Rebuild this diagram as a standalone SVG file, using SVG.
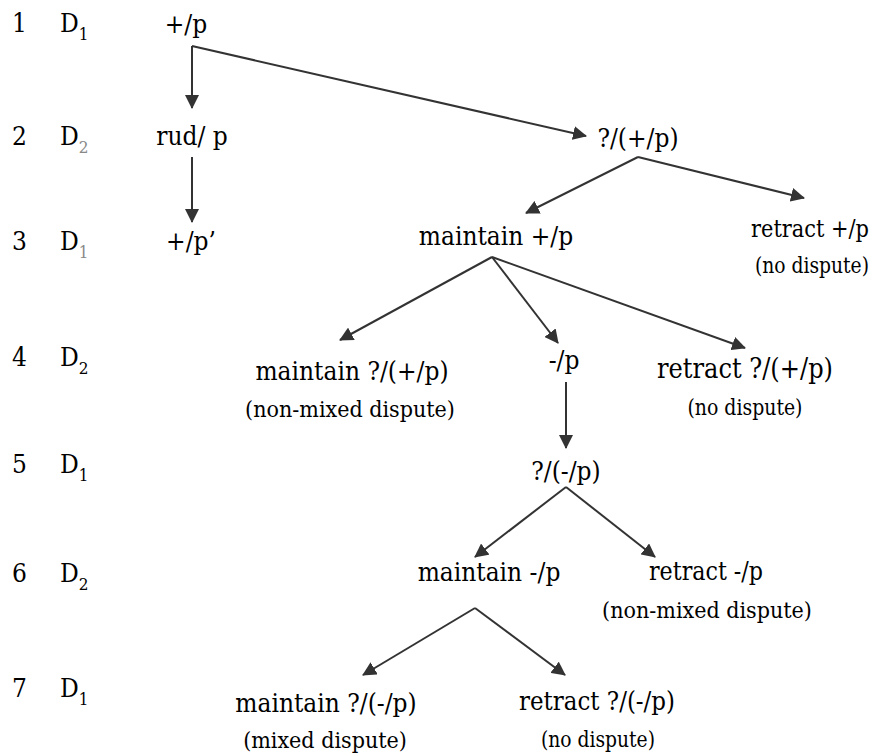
<svg xmlns="http://www.w3.org/2000/svg" width="881" height="755" viewBox="0 0 881 755">
<defs>
<style>
text{font-family:"DejaVu Serif Condensed","DejaVu Serif","Liberation Serif",serif;font-stretch:condensed;fill:#000}
.t{font-size:26px;text-anchor:middle}
.s{font-size:23px;text-anchor:middle}
.big{font-size:28px;text-anchor:middle}
.n{font-size:26px}
.sub{font-size:17px}
.g{fill:#888}
.e line{stroke:#333;stroke-width:2;fill:none;marker-end:url(#ah)}
</style>
<marker id="ah" viewBox="0 0 14 14" refX="13" refY="7" markerWidth="14" markerHeight="14" markerUnits="userSpaceOnUse" orient="auto">
<path d="M0,0 L14,7 L0,14 z" fill="#333"/>
</marker>
</defs>
<rect width="881" height="755" fill="#fff"/>
<g id="rows">
<text class="n" x="12" y="32">1</text><text class="n" x="60" y="32">D<tspan class="sub" dy="8">1</tspan></text>
<text class="n" x="12" y="145">2</text><text class="n" x="60" y="145">D<tspan class="sub g" dy="8">2</tspan></text>
<text class="n" x="12" y="250">3</text><text class="n" x="60" y="250">D<tspan class="sub g" dy="8">1</tspan></text>
<text class="n" x="12" y="366">4</text><text class="n" x="60" y="366">D<tspan class="sub" dy="8">2</tspan></text>
<text class="n" x="12" y="473">5</text><text class="n" x="60" y="473">D<tspan class="sub" dy="8">1</tspan></text>
<text class="n" x="12" y="582">6</text><text class="n" x="60" y="582">D<tspan class="sub" dy="8">2</tspan></text>
<text class="n" x="12" y="697">7</text><text class="n" x="60" y="697">D<tspan class="sub" dy="8">1</tspan></text>
</g>
<g id="connectors" class="e">
<line x1="192" y1="46" x2="192" y2="108"/>
<line x1="192" y1="46" x2="586" y2="136"/>
<line x1="192" y1="157" x2="192" y2="222"/>
<line x1="638" y1="157" x2="526" y2="213"/>
<line x1="638" y1="157" x2="804" y2="198"/>
<line x1="492" y1="257" x2="340" y2="340"/>
<line x1="492" y1="257" x2="558" y2="343"/>
<line x1="492" y1="257" x2="745" y2="348"/>
<line x1="566" y1="382" x2="566" y2="448"/>
<line x1="566" y1="487" x2="475" y2="557"/>
<line x1="566" y1="487" x2="655" y2="557"/>
<line x1="475" y1="608" x2="363" y2="675"/>
<line x1="475" y1="608" x2="565" y2="675"/>
</g>
<g id="n1"><text class="t" x="186" y="33">+/p</text></g>
<g id="n2"><text class="t" x="192" y="145">rud/ p</text></g>
<g id="n3"><text class="t" x="191" y="250">+/p’</text></g>
<g id="n4"><text class="t" x="638" y="147">?/(+/p)</text></g>
<g id="n5"><text class="t" x="496" y="245">maintain +/p</text></g>
<g id="n6"><text class="t" x="810" y="237" style="font-size:24px" textLength="118" lengthAdjust="spacingAndGlyphs">retract +/p</text><text class="s" x="812" y="273" textLength="114" lengthAdjust="spacingAndGlyphs">(no dispute)</text></g>
<g id="n7"><text class="t" x="352" y="380">maintain ?/(+/p)</text><text class="s" x="350" y="417">(non-mixed dispute)</text></g>
<g id="n8"><text class="t" x="564" y="369">-/p</text></g>
<g id="n9"><text class="big" x="745" y="378" textLength="176" lengthAdjust="spacingAndGlyphs">retract ?/(+/p)</text><text class="s" x="745" y="415" textLength="115" lengthAdjust="spacingAndGlyphs">(no dispute)</text></g>
<g id="n10"><text class="t" x="566" y="480">?/(-/p)</text></g>
<g id="n11"><text class="t" x="489" y="581">maintain -/p</text></g>
<g id="n12"><text class="t" x="706" y="580" textLength="114" lengthAdjust="spacingAndGlyphs">retract -/p</text><text class="s" x="707" y="618">(non-mixed dispute)</text></g>
<g id="n13"><text class="t" x="326" y="712">maintain ?/(-/p)</text><text class="s" x="325" y="748">(mixed dispute)</text></g>
<g id="n14"><text class="t" x="597" y="710" textLength="156" lengthAdjust="spacingAndGlyphs">retract ?/(-/p)</text><text class="s" x="598" y="747" textLength="114" lengthAdjust="spacingAndGlyphs">(no dispute)</text></g>
</svg>
